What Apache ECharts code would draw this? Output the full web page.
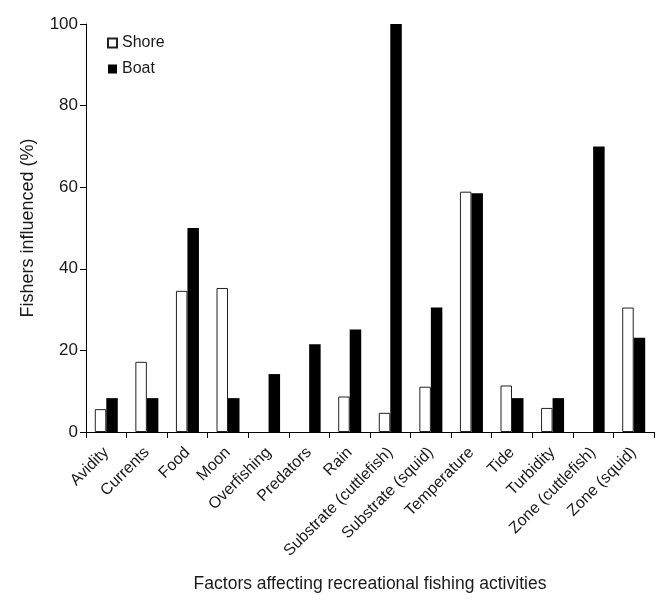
<!DOCTYPE html>
<html>
<head>
<meta charset="utf-8">
<script src="https://cdn.jsdelivr.net/npm/echarts@6/dist/echarts.min.js"></script>
<style>html,body{margin:0;padding:0;background:#fff;}#c{width:661px;height:603px;}</style>
</head>
<body>
<div id="c"></div>
<script>
var categories = ['Avidity','Currents','Food','Moon','Overfishing','Predators','Rain','Substrate (cuttlefish)','Substrate (squid)','Temperature','Tide','Turbidity','Zone (cuttlefish)','Zone (squid)'];
var shore = [5.6, 17.2, 34.6, 35.3, 0, 0, 8.7, 4.7, 11.1, 58.9, 11.4, 5.9, 0, 30.5];
var boat = [8.3, 8.3, 50, 8.3, 14.2, 21.5, 25.1, 100, 30.5, 58.5, 8.3, 8.3, 70, 23.1];
var yTicks = [0, 20, 40, 60, 80, 100];

function toItems(arr) {
  return arr.map(function (v) {
    return v === 0 ? {value: v, itemStyle: {borderWidth: 0, opacity: 0}} : v;
  });
}

var chart = echarts.init(document.getElementById('c'));
var txt = '#1a1a1a';
var font = 'Liberation Sans, Arial, sans-serif';
chart.setOption({
  animation: false,
  backgroundColor: '#fff',
  textStyle: {fontFamily: font},
  grid: {left: 86, right: 7, top: 24, bottom: 171, containLabel: false},
  legend: {
    orient: 'vertical', left: 102, top: 29, itemGap: 8,
    icon: 'rect', itemWidth: 9, itemHeight: 9,
    textStyle: {fontSize: 16, lineHeight: 18, color: txt, fontFamily: font},
    data: ['Shore', 'Boat']
  },
  xAxis: {
    type: 'category', data: categories,
    name: 'Factors affecting recreational fishing activities',
    nameLocation: 'middle', nameGap: 143,
    nameTextStyle: {fontSize: 17.5, color: txt, fontFamily: font},
    axisLine: {lineStyle: {color: '#000', width: 1}},
    axisTick: {show: true, alignWithLabel: false, length: 6, lineStyle: {color: '#000'}},
    axisLabel: {rotate: 45, fontSize: 16, color: txt, margin: 18, interval: 0, fontFamily: font},
    splitLine: {show: false}
  },
  yAxis: {
    type: 'value', min: 0, max: 100, interval: 20,
    name: 'Fishers influenced (%)', nameLocation: 'middle', nameGap: 49,
    nameTextStyle: {fontSize: 18, color: txt, fontFamily: font},
    axisLine: {show: true, lineStyle: {color: '#000', width: 1}},
    axisTick: {show: true, length: 6, lineStyle: {color: '#000'}},
    axisLabel: {fontSize: 17, color: txt, margin: 8, fontFamily: font,
      formatter: function(v){ return yTicks.indexOf(v) >= 0 ? String(v) : ''; }},
    splitLine: {show: false}
  },
  series: [
    {name: 'Shore', type: 'bar', data: toItems(shore), barWidth: 11.5, barGap: '0%',
     itemStyle: {color: '#fff', borderColor: '#222', borderWidth: 1}},
    {name: 'Boat', type: 'bar', data: toItems(boat), barWidth: 11.5, barGap: '0%',
     itemStyle: {color: '#000', borderColor: '#000', borderWidth: 0}}
  ]
});
</script>
</body>
</html>
